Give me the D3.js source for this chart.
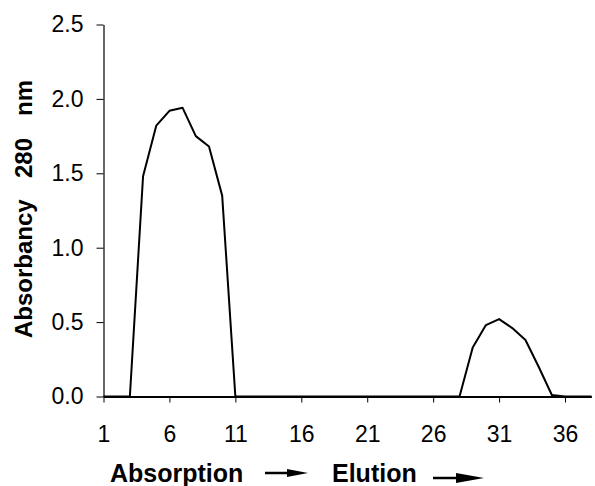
<!DOCTYPE html>
<html lang="en">
<head>
    <meta charset="UTF-8">
    <title>Absorbancy 280 nm</title>
    <script src="https://cdn.jsdelivr.net/npm/d3@7"></script>
    <style>
        body { margin: 0; background: #fff; }
        text { font-family: "Liberation Sans", Arial, sans-serif; fill: #000; }
    </style>
</head>
<body>
<svg id="main" width="595" height="486"></svg>
<script>
    // fraction numbers and absorbancy readings
    const fractions = d3.range(1, 39);
    const absorbancy = [0, 0, 0, 1.48, 1.82, 1.92, 1.94, 1.75, 1.68, 1.35,
        0, 0, 0, 0, 0, 0, 0, 0, 0, 0,
        0, 0, 0, 0, 0, 0, 0, 0, 0.33, 0.48,
        0.52, 0.46, 0.38, 0.2, 0.01, 0, 0, 0];
    const xTicks = [1, 6, 11, 16, 21, 26, 31, 36];
    const yTicks = [0, 0.5, 1.0, 1.5, 2.0, 2.5];

    let svg = d3.select('svg#main');

    let xScale = d3.scaleLinear()
        .domain([1, 38])
        .range([103.5, 591.4]);
    let yScale = d3.scaleLinear()
        .domain([0, 2.5])
        .range([396.5, 24.5]);

    // y axis
    let yAxis = svg.append('g')
        .attr('transform', 'translate(103.5,0)')
        .call(d3.axisLeft(yScale)
            .tickValues(yTicks)
            .tickFormat(d3.format('.1f'))
            .tickSize(7)
            .tickSizeOuter(0)
            .tickPadding(13));
    yAxis.selectAll('text').style('font-size', '23px');
    yAxis.select('.domain').attr('stroke-width', 1.2);

    // x axis
    let xAxis = svg.append('g')
        .attr('transform', 'translate(0,396.5)')
        .call(d3.axisBottom(xScale)
            .tickValues(xTicks)
            .tickSize(6)
            .tickSizeOuter(0)
            .tickPadding(23));
    xAxis.selectAll('text').style('font-size', '23px');
    xAxis.select('.domain').attr('stroke-width', 2);
    svg.selectAll('.tick line').attr('stroke', '#000');

    // the absorbancy line
    let line = d3.line()
        .x((d, i) => xScale(fractions[i]))
        .y(d => yScale(d));
    svg.append('path')
        .datum(absorbancy)
        .attr('fill', 'none')
        .attr('stroke', '#000')
        .attr('stroke-width', 2)
        .attr('stroke-linejoin', 'round')
        .attr('d', line);

    // y title
    let yTitle = svg.append('g')
        .attr('transform', 'translate(32,0) rotate(-90)');
    yTitle.append('text')
        .attr('x', -338).attr('y', 0)
        .style('font-size', '24px').style('font-weight', 'bold')
        .text('Absorbancy');
    yTitle.append('text')
        .attr('x', -178).attr('y', 0)
        .style('font-size', '24px').style('font-weight', 'bold')
        .text('280');
    yTitle.append('text')
        .attr('x', -80).attr('y', 0)
        .attr('text-anchor', 'end')
        .style('font-size', '24px').style('font-weight', 'bold')
        .text('nm');

    // x title with arrows
    svg.append('text')
        .attr('x', 110).attr('y', 482)
        .style('font-size', '25px').style('font-weight', 'bold')
        .text('Absorption');
    svg.append('text')
        .attr('x', 332).attr('y', 482)
        .style('font-size', '25px').style('font-weight', 'bold')
        .text('Elution');

    function arrow(x0, x1, y, head, hw) {
        svg.append('line')
            .attr('x1', x0).attr('x2', x1 - head + 2)
            .attr('y1', y).attr('y2', y)
            .attr('stroke', '#000').attr('stroke-width', 2.5);
        svg.append('path')
            .attr('d', `M${x1},${y} L${x1 - head},${y - hw} L${x1 - head},${y + hw} Z`)
            .attr('fill', '#000');
    }
    arrow(265, 308, 473, 21, 4);
    arrow(433, 484, 478, 28, 5);
</script>
</body>
</html>
